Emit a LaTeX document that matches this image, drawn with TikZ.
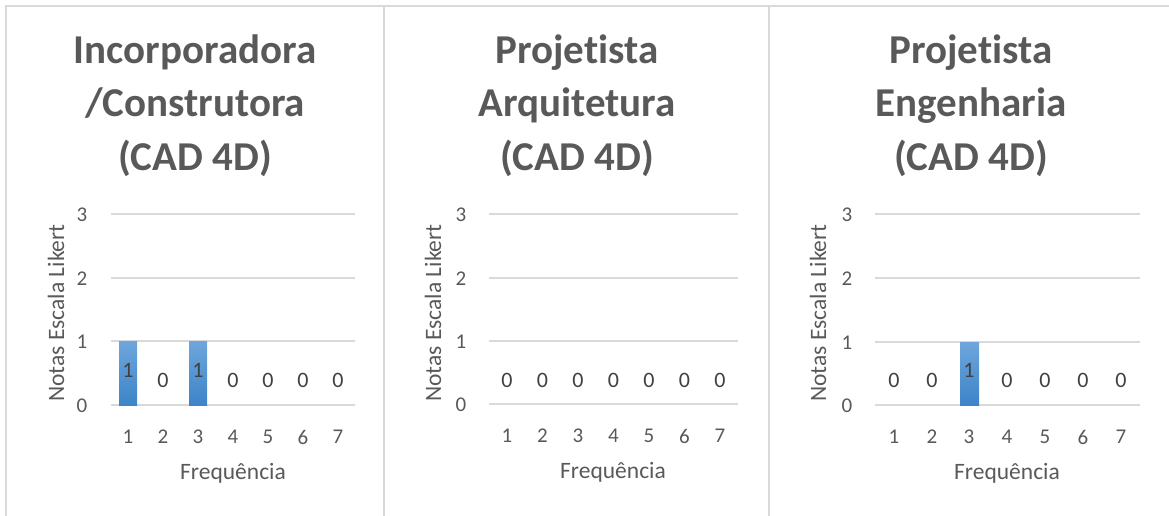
\documentclass[tikz,border=0pt]{standalone}
\usepackage{fontspec}
\setmainfont{Carlito}[Ligatures=NoCommon]
\usepackage{tikz}
\definecolor{txtgray}{HTML}{595959}
\definecolor{lblgray}{HTML}{404040}
\definecolor{linegray}{HTML}{D9D9D9}
\definecolor{bartop}{HTML}{6FA6DC}
\definecolor{barbot}{HTML}{3C84C8}

\begin{document}
\begin{tikzpicture}[x=1pt,y=-1pt,
  panel/.style={draw=linegray,line width=2pt},
  gridln/.style={draw=linegray,line width=1.5pt},
  ttl/.style={text=txtgray,font=\bfseries\fontsize{41}{53.5}\selectfont,align=center,anchor=base,inner sep=0pt},
  ytick/.style={text=txtgray,font=\fontsize{21}{24}\selectfont,inner sep=0pt},
  cat/.style={text=txtgray,font=\fontsize{21}{24}\selectfont,inner sep=0pt},
  val/.style={text=lblgray,font=\fontsize{22}{24}\selectfont,inner sep=0pt},
  axttl/.style={text=txtgray,font=\fontsize{23.5}{26}\selectfont,inner sep=0pt},
  bar/.style={top color=bartop,bottom color=barbot}]
\useasboundingbox (0,0) rectangle (1169,516);
% frames
\draw[panel] (6,516)--(6,6)--(1169,6);
\draw[panel] (384,6)--(384,516);
\draw[panel] (769,6)--(769,516);

% panel 1
\node[ttl] (ttlA) at (195,170) {Incorporadora\\/Construtora\\(CAD 4D)};
\draw[gridln] (111,214)--(355,214);
\draw[gridln] (111,278)--(355,278);
\draw[gridln] (111,341)--(355,341);
\draw[gridln] (111,405)--(355,405);
\node[ytick] (yA3) at (82,215) {3};
\node[ytick] (yA2) at (82,279) {2};
\node[ytick] (yA1) at (82,342) {1};
\node[ytick] (yA0) at (82,406) {0};
\shade[bar] (119,341) rectangle (137,405);
\shade[bar] (189,341) rectangle (207,405);
\node[val] (vA1) at (128,370) {1};
\node[val] (vA2) at (163,380) {0};
\node[val] (vA3) at (198,370) {1};
\node[val] (vA4) at (233,380) {0};
\node[val] (vA5) at (268,380) {0};
\node[val] (vA6) at (303,380) {0};
\node[val] (vA7) at (338,380) {0};
\node[cat] (cA1) at (128,437) {1};
\node[cat] (cA2) at (163,437) {2};
\node[cat] (cA3) at (198,437) {3};
\node[cat] (cA4) at (233,437) {4};
\node[cat] (cA5) at (268,437) {5};
\node[cat] (cA6) at (303,437) {6};
\node[cat] (cA7) at (338,437) {7};
\node[axttl] (xA) at (233,473) {Frequência};
\node[axttl,rotate=90] (yA) at (56,313) {Notas Escala Likert};

% panel 2
\node[ttl] (ttlB) at (577,170) {Projetista\\Arquitetura\\(CAD 4D)};
\draw[gridln] (489,214)--(738,214);
\draw[gridln] (489,278)--(738,278);
\draw[gridln] (489,341)--(738,341);
\draw[gridln] (489,404)--(738,404);
\node[ytick] (yB3) at (461,215) {3};
\node[ytick] (yB2) at (461,279) {2};
\node[ytick] (yB1) at (461,342) {1};
\node[ytick] (yB0) at (461,405) {0};
\node[val] (vB1) at (507,380) {0};
\node[val] (vB2) at (542.5,380) {0};
\node[val] (vB3) at (578,380) {0};
\node[val] (vB4) at (613.5,380) {0};
\node[val] (vB5) at (649,380) {0};
\node[val] (vB6) at (684.5,380) {0};
\node[val] (vB7) at (720,380) {0};
\node[cat] (cB1) at (507,436) {1};
\node[cat] (cB2) at (542.5,436) {2};
\node[cat] (cB3) at (578,436) {3};
\node[cat] (cB4) at (613.5,436) {4};
\node[cat] (cB5) at (649,436) {5};
\node[cat] (cB6) at (684.5,436) {6};
\node[cat] (cB7) at (720,436) {7};
\node[axttl] (xB) at (613,472) {Frequência};
\node[axttl,rotate=90] (yB) at (433,313) {Notas Escala Likert};

% panel 3
\node[ttl] (ttlC) at (971,170) {Projetista\\Engenharia\\(CAD 4D)};
\draw[gridln] (875,214)--(1140,214);
\draw[gridln] (875,278)--(1140,278);
\draw[gridln] (875,342)--(1140,342);
\draw[gridln] (875,405)--(1140,405);
\node[ytick] (yC3) at (847,215) {3};
\node[ytick] (yC2) at (847,279) {2};
\node[ytick] (yC1) at (847,343) {1};
\node[ytick] (yC0) at (847,406) {0};
\shade[bar] (960,342) rectangle (979,405);
\node[val] (vC1) at (894,380) {0};
\node[val] (vC2) at (932,380) {0};
\node[val] (vC3) at (969,370) {1};
\node[val] (vC4) at (1007,380) {0};
\node[val] (vC5) at (1045,380) {0};
\node[val] (vC6) at (1083,380) {0};
\node[val] (vC7) at (1121,380) {0};
\node[cat] (cC1) at (894,437) {1};
\node[cat] (cC2) at (932,437) {2};
\node[cat] (cC3) at (969,437) {3};
\node[cat] (cC4) at (1007,437) {4};
\node[cat] (cC5) at (1045,437) {5};
\node[cat] (cC6) at (1083,437) {6};
\node[cat] (cC7) at (1121,437) {7};
\node[axttl] (xC) at (1007,473) {Frequência};
\node[axttl,rotate=90] (yC) at (818,313) {Notas Escala Likert};
\end{tikzpicture}
\end{document}
